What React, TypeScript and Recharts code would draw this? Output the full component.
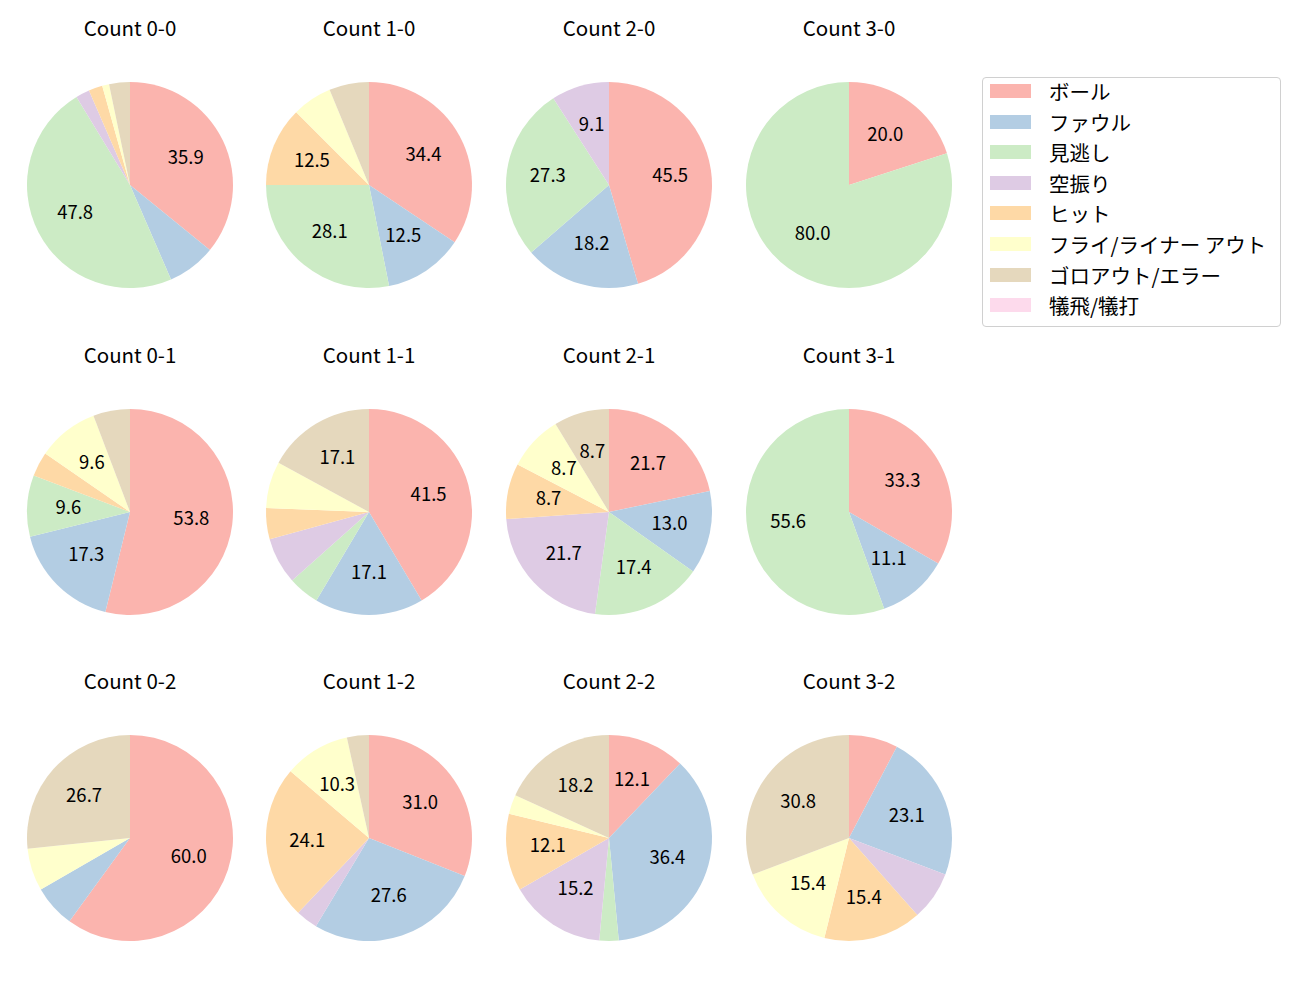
import { PieChart, Pie, Cell } from "recharts";

const categories = [
  "ボール",
  "ファウル",
  "見逃し",
  "空振り",
  "ヒット",
  "フライ/ライナー アウト",
  "ゴロアウト/エラー",
  "犠飛/犠打",
];

const colors = [
  "#fbb4ae",
  "#b3cde3",
  "#ccebc5",
  "#decbe4",
  "#fed9a6",
  "#ffffcc",
  "#e5d8bd",
  "#fddaec",
];

// counts per ball-strike state, same order as categories
const count00 = [33, 7, 44, 2, 2, 1, 3, 0];
const count10 = [11, 4, 9, 0, 4, 2, 2, 0];
const count20 = [5, 2, 3, 1, 0, 0, 0, 0];
const count30 = [1, 0, 4, 0, 0, 0, 0, 0];
const count01 = [28, 9, 5, 0, 2, 5, 3, 0];
const count11 = [17, 7, 2, 3, 2, 3, 7, 0];
const count21 = [5, 3, 4, 5, 2, 2, 2, 0];
const count31 = [3, 1, 5, 0, 0, 0, 0, 0];
const count02 = [9, 1, 0, 0, 0, 1, 4, 0];
const count12 = [9, 8, 0, 1, 7, 3, 1, 0];
const count22 = [4, 12, 1, 5, 4, 1, 6, 0];
const count32 = [1, 3, 0, 1, 2, 2, 4, 0];

const panels = [
  { title: "Count 0-0", values: count00 },
  { title: "Count 1-0", values: count10 },
  { title: "Count 2-0", values: count20 },
  { title: "Count 3-0", values: count30 },
  { title: "Count 0-1", values: count01 },
  { title: "Count 1-1", values: count11 },
  { title: "Count 2-1", values: count21 },
  { title: "Count 3-1", values: count31 },
  { title: "Count 0-2", values: count02 },
  { title: "Count 1-2", values: count12 },
  { title: "Count 2-2", values: count22 },
  { title: "Count 3-2", values: count32 },
];

const colX = [130, 369, 609, 849];
const rowY = [185, 512, 838];
const FONT = "'Noto Sans CJK JP', 'Noto Sans', sans-serif";
const R = 103;
const RAD = Math.PI / 180;

const renderLabel = (p: any) => {
  const pct = p.percent * 100;
  if (pct < 8) return null;
  const r = p.outerRadius * 0.6;
  const x = p.cx + r * Math.cos(-p.midAngle * RAD);
  const y = p.cy + r * Math.sin(-p.midAngle * RAD);
  return (
    <text
      x={x}
      y={y - 2.5}
      fill="#000"
      fontSize={18.5}
      fontFamily={FONT}
      textAnchor="middle"
      dominantBaseline="central"
    >
      {pct.toFixed(1)}
    </text>
  );
};

function CountPie({ title, values, x, y }: any) {
  const data = categories.map((name, i) => ({ name, value: values[i] }));
  return (
    <div style={{ position: "absolute", left: x - 120, top: y - 170 }}>
      <div
        style={{
          position: "absolute",
          width: 240,
          top: 0,
          lineHeight: "24px",
          textAlign: "center",
          fontSize: 20.5,
          fontFamily: FONT,
          color: "#000",
        }}
      >
        {title}
      </div>
      <div style={{ position: "absolute", top: 50 }}>
        <PieChart
          width={240}
          height={240}
          margin={{ top: 0, right: 0, bottom: 0, left: 0 }}
        >
          <Pie
            data={data}
            dataKey="value"
            cx={120}
            cy={120}
            outerRadius={R}
            startAngle={90}
            endAngle={-270}
            stroke="none"
            label={renderLabel}
            labelLine={false}
            isAnimationActive={false}
          >
            {data.map((d, i) => (
              <Cell key={d.name} fill={colors[i]} />
            ))}
          </Pie>
        </PieChart>
      </div>
    </div>
  );
}

export default function App() {
  return (
    <div
      style={{
        position: "absolute",
        left: 0,
        top: 0,
        width: 1300,
        height: 1000,
        background: "#fff",
      }}
    >
      {panels.map((p, i) => (
        <CountPie
          key={p.title}
          title={p.title}
          values={p.values}
          x={colX[i % 4]}
          y={rowY[Math.floor(i / 4)]}
        />
      ))}
      <div
        style={{
          position: "absolute",
          left: 982,
          top: 77,
          width: 299,
          height: 250,
          border: "1px solid #d0d0d0",
          borderRadius: 4,
          boxSizing: "border-box",
          fontFamily: FONT,
          fontSize: 20.5,
        }}
      >
        {categories.map((c, i) => (
          <div
            key={c}
            style={{
              position: "absolute",
              left: 7,
              top: 1 + i * 30.6,
              height: 24,
              display: "flex",
              alignItems: "center",
              whiteSpace: "nowrap",
            }}
          >
            <span
              style={{
                display: "inline-block",
                width: 41,
                height: 14,
                background: colors[i],
                marginRight: 18,
              }}
            />
            <span>{c}</span>
          </div>
        ))}
      </div>
    </div>
  );
}
